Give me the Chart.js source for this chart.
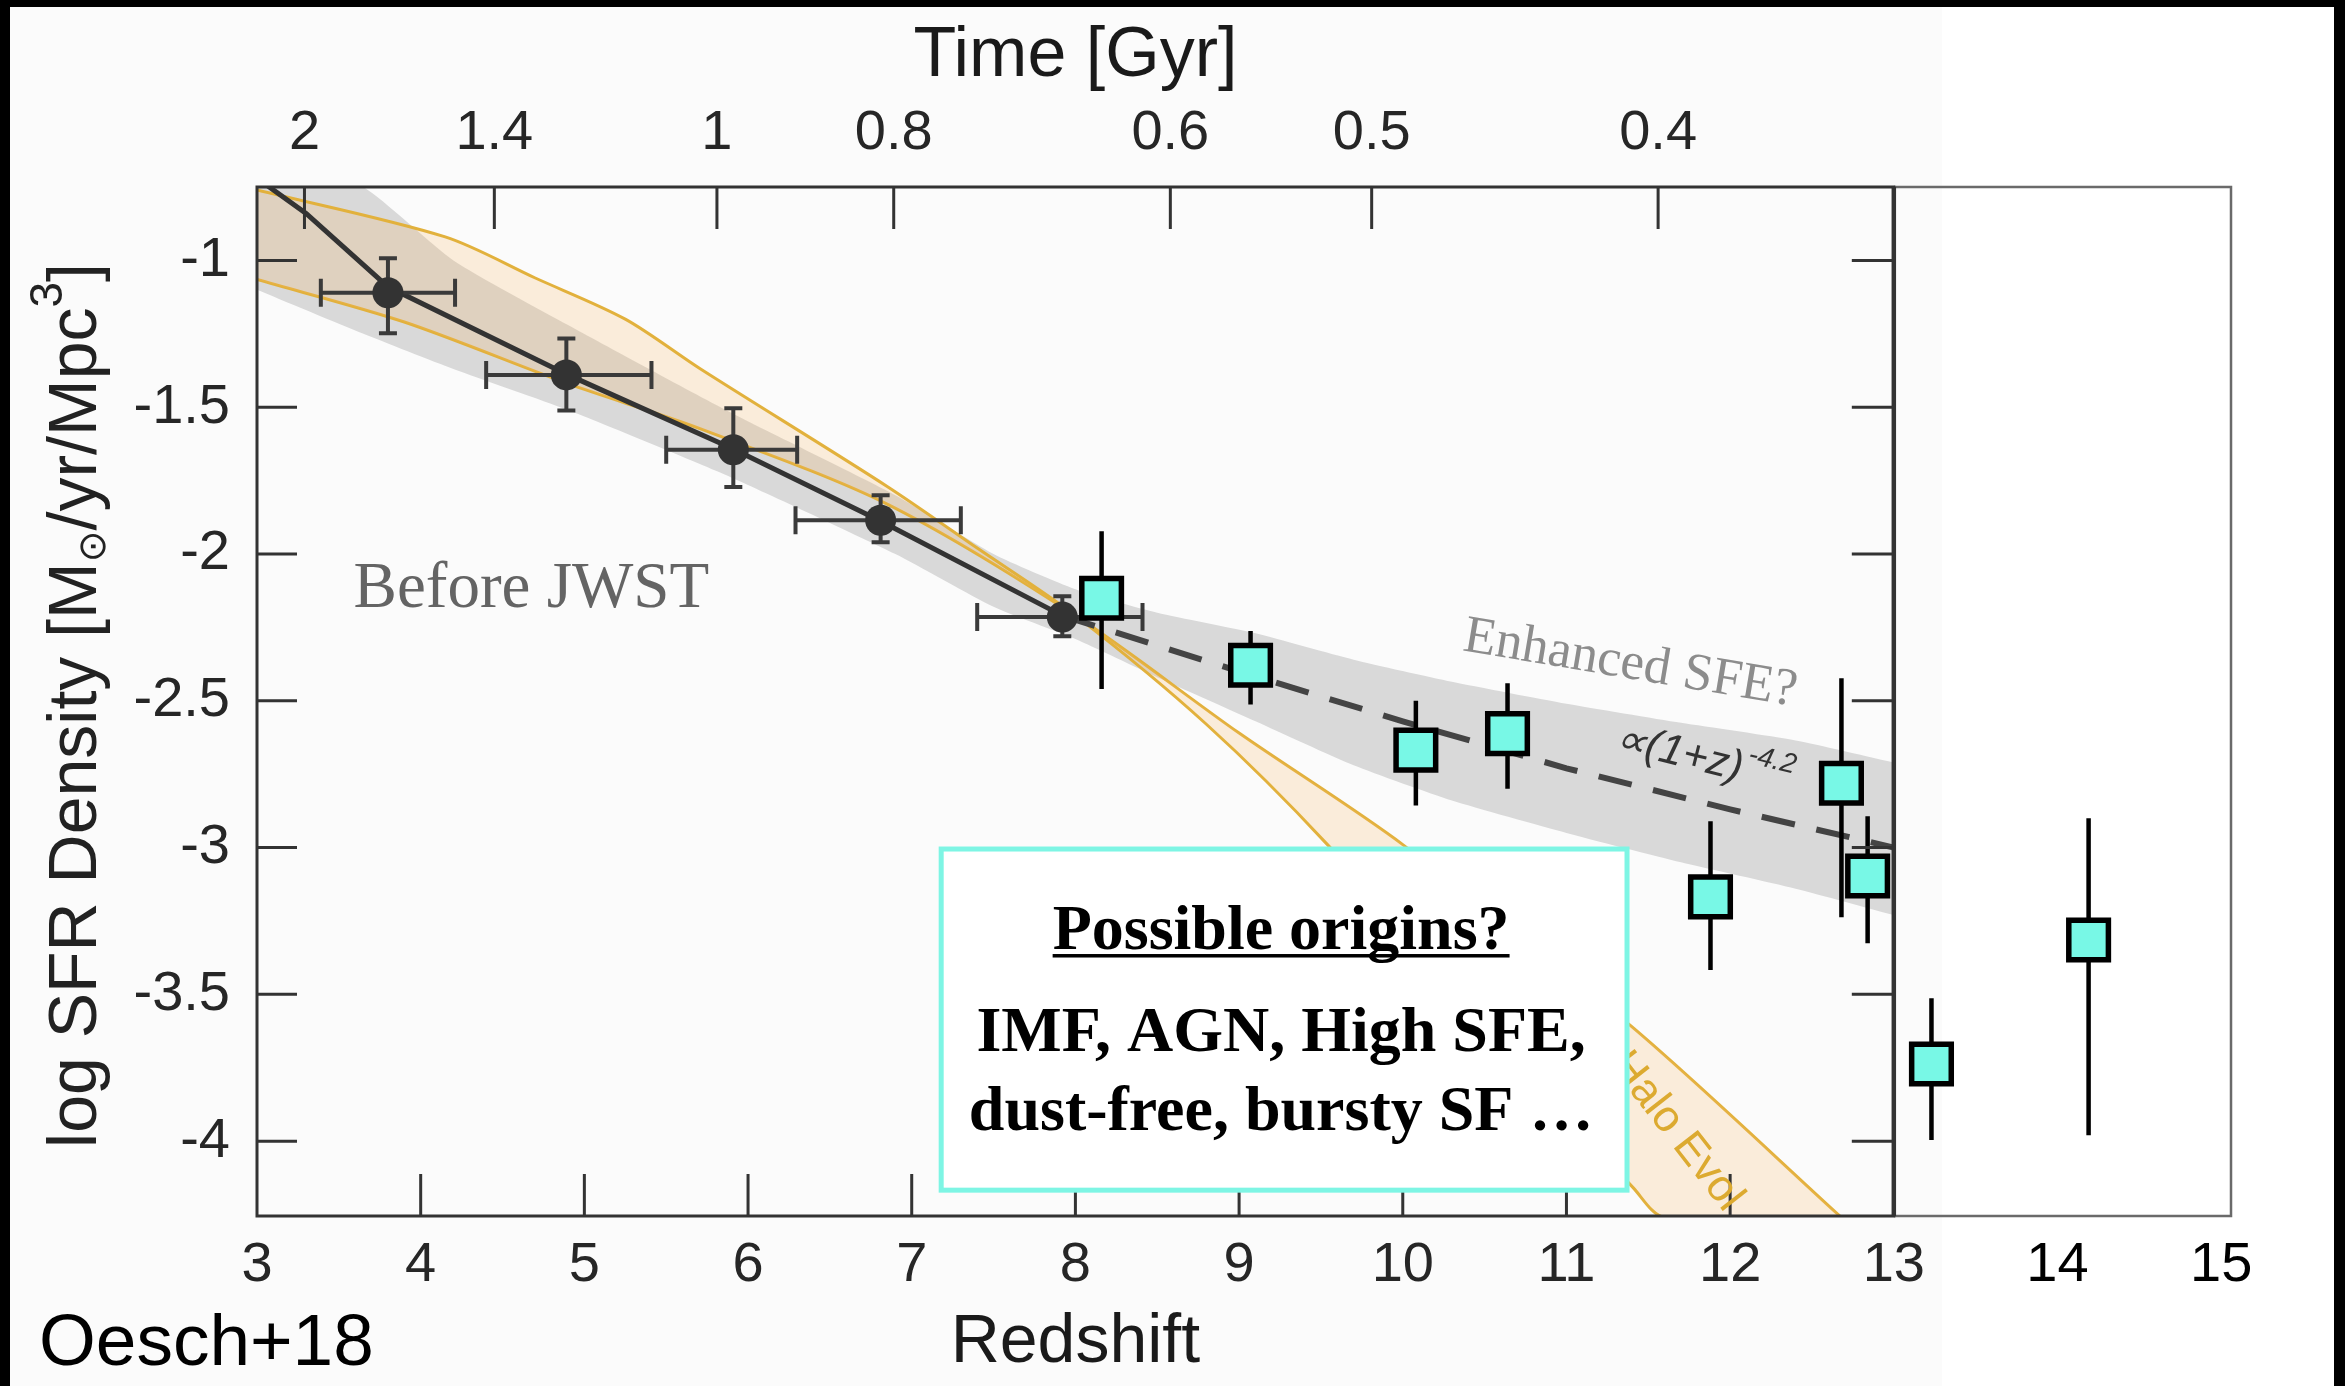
<!DOCTYPE html>
<html>
<head>
<meta charset="utf-8">
<title>Cosmic SFR density</title>
<script src="https://cdn.jsdelivr.net/npm/chart.js@4.4.1/dist/chart.umd.min.js"></script>
<style>
  html, body { margin: 0; padding: 0; background: #000; }
  #wrap { width: 2345px; height: 1386px; position: relative; }
</style>
</head>
<body>
<div id="wrap"><canvas id="sfrChart"></canvas></div>
<script>
// axis ticks
const redshiftTicks = [3, 4, 5, 6, 7, 8, 9, 10, 11, 12, 13, 14, 15];
const logSfrTicks = [-1, -1.5, -2, -2.5, -3, -3.5, -4];
const logSfrTickLabels = ['-1', '-1.5', '-2', '-2.5', '-3', '-3.5', '-4'];
const timeTickLabels = ['2', '1.4', '1', '0.8', '0.6', '0.5', '0.4'];
const timeTickRedshifts = [3.29, 4.45, 5.81, 6.89, 8.58, 9.81, 11.56];

// pre-JWST points (Oesch+18), with x and y error ranges
const preZ = [3.80, 4.89, 5.91, 6.81, 7.92];
const preLogSfr = [-1.11, -1.39, -1.645, -1.885, -2.215];
const preLogHi = [-0.993, -1.266, -1.504, -1.80, -2.144];
const preLogLo = [-1.248, -1.511, -1.772, -1.96, -2.28];
const preZLo = [3.39, 4.40, 5.50, 6.29, 7.40];
const preZHi = [4.21, 5.41, 6.30, 7.30, 8.41];

// JWST points
const jwstZ = [8.16, 9.07, 10.08, 10.64, 11.88, 12.68, 12.84, 13.23, 14.19];
const jwstLogSfr = [-2.151, -2.379, -2.668, -2.612, -3.168, -2.781, -3.097, -3.737, -3.315];
const jwstLogHi = [-1.923, -2.262, -2.50, -2.44, -2.91, -2.423, -2.893, -3.513, -2.90];
const jwstLogLo = [-2.46, -2.513, -2.857, -2.80, -3.417, -3.237, -3.326, -3.996, -3.98];

// best fit (solid) and (1+z)^-4.2 extrapolation (dashed)
const fitZ = [3.0, 3.3, 3.8, 4.9, 5.9, 6.8, 7.92];
const fitLogSfr = [-0.72, -0.84, -1.09, -1.39, -1.64, -1.885, -2.21];
const extrapZ = [7.92, 9.0, 10.0, 11.0, 12.0, 13.0];
const extrapLogSfr = [-2.21, -2.40, -2.57, -2.73, -2.87, -3.0];

// grey uncertainty band
const bandZ = [3.0, 3.65, 4.2, 4.9, 5.9, 6.9, 7.5, 8.0, 8.5, 9.1, 9.7, 10.3, 11.0, 11.7, 12.4, 13.0];
const bandUpper = [-0.6, -0.75, -1.0, -1.22, -1.52, -1.8, -2.0, -2.12, -2.2, -2.27, -2.36, -2.435, -2.51, -2.575, -2.635, -2.71];
const bandLower = [-1.1, -1.25, -1.37, -1.51, -1.74, -2.0, -2.18, -2.29, -2.42, -2.57, -2.72, -2.84, -2.95, -3.05, -3.14, -3.23];

// halo evolution model band (two edges that cross near z~8)
const haloAZ = [3.0, 4.15, 4.7, 5.25, 5.71, 6.85, 7.4, 8.0, 8.8, 9.54, 10.5, 11.41, 11.6, 12.68];
const haloALogSfr = [-0.76, -0.92, -1.06, -1.2, -1.37, -1.77, -1.98, -2.21, -2.58, -2.99, -3.6, -4.16, -4.26, -4.26];
const haloBZ = [3.0, 3.9, 4.9, 5.71, 6.85, 8.0, 9.0, 10.0, 11.41, 12.68];
const haloBLogSfr = [-1.065, -1.21, -1.42, -1.574, -1.83, -2.21, -2.61, -2.99, -3.615, -4.26];

const Z_MIN = 3, Z_MAX = 15.06;
const LOG_MIN = -4.255, LOG_MAX = -0.75;
const MAIN_PANEL_END = 13;

// annotation anchors, in data units
const beforeJwstAt = { z: 3.59, logSfr: -2.18 };
const enhancedSfeAt = { z: 11.39, logSfr: -2.376, angle: 9.5 };
const powerLawAt = { z: 11.83, logSfr: -2.70, angle: 14 };
const haloLabelAt = { z: 11.67, logSfr: -3.967, angle: 52 };
const originsBox = { zFrom: 7.18, zTo: 11.37, logTop: -3.005, logBottom: -4.167 };

const SANS = '"Liberation Sans", Arial, Helvetica, sans-serif';
const SERIF = '"Liberation Serif", "Times New Roman", serif';
const TICK_LEN = 42;

function toPoints(xs, ys) {
  return xs.map((v, i) => ({ x: v, y: ys[i] }));
}

const backgroundPlugin = {
  id: 'background',
  beforeDraw(chart) {
    const { ctx, width, height } = chart;
    ctx.save();
    ctx.fillStyle = '#000';
    ctx.fillRect(0, 0, width, height);
    ctx.fillStyle = '#fbfbfb';
    ctx.fillRect(10, 7, 1932, height - 7);
    ctx.fillStyle = '#ffffff';
    ctx.fillRect(1942, 7, 392, height - 7);
    ctx.restore();
  },
};

const errorBarPlugin = {
  id: 'errorBars',
  beforeDatasetDraw(chart, args) {
    const ds = chart.data.datasets[args.index];
    const e = ds.errorBars;
    if (!e) return;
    const { ctx } = chart;
    const x = chart.scales.x;
    const y = chart.scales.y;
    ctx.save();
    ctx.strokeStyle = e.color;
    ctx.lineWidth = e.width;
    ctx.beginPath();
    ds.data.forEach((pt, i) => {
      const px = x.getPixelForValue(pt.x);
      const py = y.getPixelForValue(pt.y);
      const top = y.getPixelForValue(e.hi[i]);
      const bot = y.getPixelForValue(e.lo[i]);
      ctx.moveTo(px, top);
      ctx.lineTo(px, bot);
      if (e.yCap) {
        ctx.moveTo(px - e.yCap, top);
        ctx.lineTo(px + e.yCap, top);
        ctx.moveTo(px - e.yCap, bot);
        ctx.lineTo(px + e.yCap, bot);
      }
      if (e.zLo) {
        const l = x.getPixelForValue(e.zLo[i]);
        const r = x.getPixelForValue(e.zHi[i]);
        ctx.moveTo(l, py);
        ctx.lineTo(r, py);
        ctx.moveTo(l, py - e.xCap);
        ctx.lineTo(l, py + e.xCap);
        ctx.moveTo(r, py - e.xCap);
        ctx.lineTo(r, py + e.xCap);
      }
    });
    ctx.stroke();
    ctx.restore();
  },
};

function drawFrame(ctx, area, x, y, xTime) {
  const xEnd = x.getPixelForValue(MAIN_PANEL_END);
  ctx.save();
  // thin box of the added high-z panel
  ctx.strokeStyle = '#6a6a6a';
  ctx.lineWidth = 2.5;
  ctx.beginPath();
  ctx.moveTo(xEnd, area.top);
  ctx.lineTo(area.right, area.top);
  ctx.lineTo(area.right, area.bottom);
  ctx.lineTo(xEnd, area.bottom);
  ctx.stroke();

  ctx.strokeStyle = '#333';
  ctx.lineWidth = 3;
  ctx.strokeRect(area.left, area.top, xEnd - area.left, area.bottom - area.top);
  ctx.lineWidth = 4.5;
  ctx.beginPath();
  ctx.moveTo(xEnd, area.top);
  ctx.lineTo(xEnd, area.bottom);
  ctx.stroke();

  // inward ticks
  ctx.lineWidth = 3;
  ctx.beginPath();
  redshiftTicks.filter(v => v > Z_MIN && v < MAIN_PANEL_END).forEach(v => {
    const px = x.getPixelForValue(v);
    ctx.moveTo(px, area.bottom);
    ctx.lineTo(px, area.bottom - TICK_LEN);
  });
  timeTickRedshifts.forEach(v => {
    const px = xTime.getPixelForValue(v);
    ctx.moveTo(px, area.top);
    ctx.lineTo(px, area.top + TICK_LEN);
  });
  logSfrTicks.forEach(v => {
    const py = y.getPixelForValue(v);
    ctx.moveTo(area.left, py);
    ctx.lineTo(area.left + TICK_LEN - 2, py);
    ctx.moveTo(xEnd, py);
    ctx.lineTo(xEnd - TICK_LEN, py);
  });
  ctx.stroke();
  ctx.restore();
}

function drawRotated(ctx, px, py, angleDeg, fn) {
  ctx.save();
  ctx.translate(px, py);
  ctx.rotate(angleDeg * Math.PI / 180);
  fn();
  ctx.restore();
}

function drawYTitle(ctx, baselineX, centerY) {
  const big = '68px ' + SANS;
  const pieces = [
    { t: 'log SFR Density [M', font: big, dy: 0 },
    { t: '\u2299', font: '38px "DejaVu Sans", sans-serif', dy: 9 },
    { t: '/yr/Mpc', font: big, dy: 0 },
    { t: '3', font: '46px ' + SANS, dy: -34 },
    { t: ']', font: big, dy: 0 },
  ];
  let total = 0;
  pieces.forEach(p => {
    ctx.font = p.font;
    p.w = ctx.measureText(p.t).width;
    total += p.w;
  });
  drawRotated(ctx, baselineX, centerY, -90, () => {
    ctx.fillStyle = '#222';
    ctx.textAlign = 'left';
    ctx.textBaseline = 'alphabetic';
    let cur = -total / 2;
    pieces.forEach(p => {
      ctx.font = p.font;
      ctx.fillText(p.t, cur, p.dy);
      cur += p.w;
    });
  });
}

function drawOriginsBox(ctx, x, y) {
  const left = x.getPixelForValue(originsBox.zFrom);
  const right = x.getPixelForValue(originsBox.zTo);
  const top = y.getPixelForValue(originsBox.logTop);
  const bottom = y.getPixelForValue(originsBox.logBottom);
  const cx = (left + right) / 2 - 3;
  ctx.save();
  ctx.fillStyle = '#ffffff';
  ctx.fillRect(left, top, right - left, bottom - top);
  ctx.strokeStyle = '#7ef5e4';
  ctx.lineWidth = 5;
  ctx.strokeRect(left, top, right - left, bottom - top);

  ctx.fillStyle = '#000';
  ctx.textAlign = 'center';
  ctx.textBaseline = 'alphabetic';
  ctx.font = 'bold 64px ' + SERIF;
  const head = 'Possible origins?';
  ctx.fillText(head, cx, top + 100);
  const hw = ctx.measureText(head).width;
  ctx.fillRect(cx - hw / 2, top + 105, hw, 3.5);
  ctx.fillText('IMF, AGN, High SFE,', cx, top + 202);
  ctx.fillText('dust-free, bursty SF \u2026', cx, top + 281);
  ctx.restore();
}

const overlayPlugin = {
  id: 'overlay',
  afterDatasetsDraw(chart) {
    const { ctx, chartArea: area, scales } = chart;
    const x = scales.x;
    const y = scales.y;
    drawFrame(ctx, area, x, y, scales.xTime);

    ctx.save();
    // "Before JWST"
    ctx.font = '65px ' + SERIF;
    ctx.fillStyle = '#646464';
    ctx.textAlign = 'left';
    ctx.textBaseline = 'alphabetic';
    ctx.fillText('Before JWST', x.getPixelForValue(beforeJwstAt.z), y.getPixelForValue(beforeJwstAt.logSfr));

    // "Enhanced SFE?"
    drawRotated(ctx, x.getPixelForValue(enhancedSfeAt.z), y.getPixelForValue(enhancedSfeAt.logSfr), enhancedSfeAt.angle, () => {
      ctx.font = '53px ' + SERIF;
      ctx.fillStyle = '#8c8c8c';
      ctx.textAlign = 'center';
      ctx.textBaseline = 'middle';
      ctx.fillText('Enhanced SFE?', 0, 0);
    });

    // power-law label
    drawRotated(ctx, x.getPixelForValue(powerLawAt.z), y.getPixelForValue(powerLawAt.logSfr), powerLawAt.angle, () => {
      const main = 'italic 43px ' + SANS;
      const sup = 'italic 28px ' + SANS;
      ctx.font = main;
      const w1 = ctx.measureText('\u221D(1+z)').width;
      ctx.font = sup;
      const w2 = ctx.measureText('-4.2').width;
      ctx.fillStyle = '#333';
      ctx.textAlign = 'left';
      ctx.textBaseline = 'middle';
      ctx.font = main;
      ctx.fillText('\u221D(1+z)', -(w1 + w2) / 2, 0);
      ctx.font = sup;
      ctx.fillText('-4.2', -(w1 + w2) / 2 + w1 + 3, -16);
    });

    // "Halo Evol" (its first letter is hidden by the box)
    drawRotated(ctx, x.getPixelForValue(haloLabelAt.z), y.getPixelForValue(haloLabelAt.logSfr), haloLabelAt.angle, () => {
      ctx.font = '44px ' + SANS;
      ctx.fillStyle = '#dcaa30';
      ctx.textAlign = 'center';
      ctx.textBaseline = 'middle';
      ctx.fillText('Halo Evol', 0, 0);
    });
    ctx.restore();

    drawOriginsBox(ctx, x, y);

    // axis titles, centred on the original z = 3..13 panel
    const mid = (x.getPixelForValue(Z_MIN) + x.getPixelForValue(MAIN_PANEL_END)) / 2;
    ctx.save();
    ctx.fillStyle = '#1a1a1a';
    ctx.textAlign = 'center';
    ctx.textBaseline = 'alphabetic';
    ctx.font = '70px ' + SANS;
    ctx.fillText('Time [Gyr]', mid, area.top - 111);
    ctx.font = '68px ' + SANS;
    ctx.fillText('Redshift', mid, area.bottom + 146);
    ctx.fillStyle = '#000';
    ctx.textAlign = 'left';
    ctx.font = '73px ' + SANS;
    ctx.fillText('Oesch+18', 39, 1365);
    ctx.restore();

    drawYTitle(ctx, 96, (area.top + area.bottom) / 2 + 4);
  },
};

const tickFont = { family: SANS, size: 56 };

const sfrChart = new Chart(document.getElementById('sfrChart'), {
  type: 'scatter',
  data: {
    datasets: [
      {
        label: 'JWST',
        data: toPoints(jwstZ, jwstLogSfr),
        order: 1,
        showLine: false,
        pointStyle: 'rect',
        pointRadius: 28,
        backgroundColor: '#78f8e6',
        borderColor: '#000',
        borderWidth: 5.5,
        errorBars: { hi: jwstLogHi, lo: jwstLogLo, color: '#000', width: 4.5 },
      },
      {
        label: 'Oesch+18',
        data: toPoints(preZ, preLogSfr),
        order: 2,
        showLine: false,
        pointStyle: 'circle',
        pointRadius: 15.5,
        backgroundColor: '#333',
        borderColor: '#333',
        borderWidth: 0,
        errorBars: { hi: preLogHi, lo: preLogLo, zLo: preZLo, zHi: preZHi, color: '#3a3a3a', width: 4, yCap: 9, xCap: 14 },
      },
      {
        label: '(1+z)^-4.2',
        data: toPoints(extrapZ, extrapLogSfr),
        order: 3,
        showLine: true,
        pointRadius: 0,
        borderColor: '#444',
        borderWidth: 6,
        borderDash: [34, 22],
        fill: false,
      },
      {
        label: 'fit',
        data: toPoints(fitZ, fitLogSfr),
        order: 4,
        showLine: true,
        pointRadius: 0,
        borderColor: '#333',
        borderWidth: 5,
        fill: false,
      },
      {
        label: 'halo A',
        data: toPoints(haloAZ, haloALogSfr),
        order: 6,
        showLine: true,
        tension: 0.3,
        pointRadius: 0,
        borderColor: '#e2b13c',
        borderWidth: 3,
        backgroundColor: 'rgba(245, 180, 100, 0.22)',
        fill: '+1',
      },
      {
        label: 'halo B',
        data: toPoints(haloBZ, haloBLogSfr),
        order: 6,
        showLine: true,
        tension: 0.3,
        pointRadius: 0,
        borderColor: '#e2b13c',
        borderWidth: 3,
        fill: false,
      },
      {
        label: 'band upper',
        data: toPoints(bandZ, bandUpper),
        order: 8,
        showLine: true,
        tension: 0.2,
        pointRadius: 0,
        borderColor: 'transparent',
        borderWidth: 0,
        backgroundColor: '#d9d9d9',
        fill: '+1',
      },
      {
        label: 'band lower',
        data: toPoints(bandZ, bandLower),
        order: 8,
        showLine: true,
        tension: 0.2,
        pointRadius: 0,
        borderColor: 'transparent',
        borderWidth: 0,
        fill: false,
      },
    ],
  },
  options: {
    responsive: true,
    maintainAspectRatio: false,
    devicePixelRatio: 1,
    animation: false,
    events: [],
    layout: { padding: { left: 0, right: 114, top: 0, bottom: 0 } },
    plugins: {
      legend: { display: false },
      tooltip: { enabled: false },
    },
    scales: {
      x: {
        type: 'linear',
        position: 'bottom',
        min: Z_MIN,
        max: Z_MAX,
        bounds: 'data',
        grid: { display: false, drawTicks: false },
        border: { display: false },
        afterBuildTicks(scale) {
          scale.ticks = redshiftTicks.map(v => ({ value: v }));
        },
        afterFit(scale) {
          scale.height = 170;
        },
        ticks: {
          autoSkip: false,
          maxRotation: 0,
          padding: 16,
          font: tickFont,
          color: (c) => (c.tick && c.tick.value > MAIN_PANEL_END ? '#000' : '#262626'),
          callback: (v, i) => String(redshiftTicks[i]),
        },
      },
      xTime: {
        type: 'linear',
        axis: 'x',
        position: 'top',
        min: Z_MIN,
        max: Z_MAX,
        bounds: 'data',
        grid: { display: false, drawTicks: false },
        border: { display: false },
        afterBuildTicks(scale) {
          scale.ticks = timeTickRedshifts.map(v => ({ value: v }));
        },
        afterFit(scale) {
          scale.height = 187;
        },
        ticks: {
          autoSkip: false,
          maxRotation: 0,
          padding: 20,
          font: tickFont,
          color: '#262626',
          callback: (v, i) => timeTickLabels[i],
        },
      },
      y: {
        type: 'linear',
        position: 'left',
        min: LOG_MIN,
        max: LOG_MAX,
        bounds: 'data',
        grid: { display: false, drawTicks: false },
        border: { display: false },
        afterBuildTicks(scale) {
          scale.ticks = logSfrTicks.map(v => ({ value: v }));
        },
        afterFit(scale) {
          scale.width = 257;
        },
        ticks: {
          autoSkip: false,
          padding: 27,
          font: tickFont,
          color: '#262626',
          callback: (v, i) => logSfrTickLabels[i],
        },
      },
    },
  },
  plugins: [backgroundPlugin, errorBarPlugin, overlayPlugin],
});
</script>
</body>
</html>
